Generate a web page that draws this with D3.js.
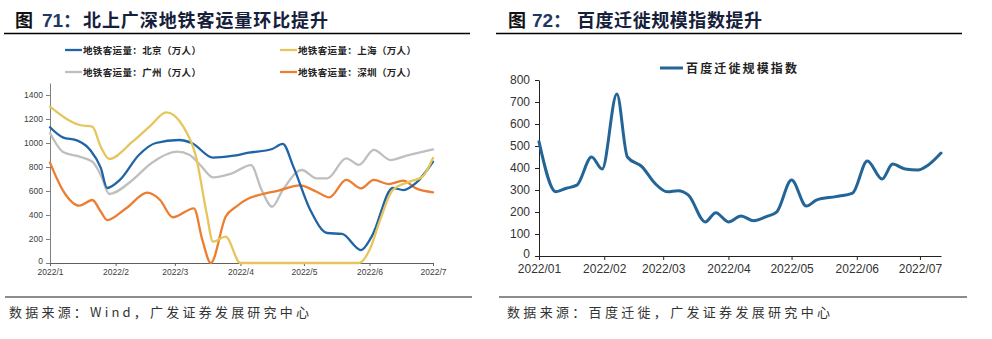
<!DOCTYPE html>
<html><head><meta charset="utf-8">
<script src="https://cdn.jsdelivr.net/npm/d3@7"></script>
<style>
html,body{margin:0;padding:0;background:#fff;}
svg{display:block;}
</style></head>
<body>
<svg id="c" width="992" height="339"></svg>
<script>
// ---------- Data: left chart (metro ridership, 万人) ----------
const bjDates = ["2022-01-01","2022-01-07","2022-01-14","2022-01-20","2022-01-25","2022-01-28","2022-02-03","2022-02-12","2022-02-20","2022-03-03","2022-03-09","2022-03-19","2022-03-28","2022-04-05","2022-04-16","2022-04-21","2022-04-26","2022-05-04","2022-05-12","2022-05-19","2022-05-28","2022-06-02","2022-06-12","2022-06-17","2022-06-23","2022-07-01"];
const bjValues = [1131,1047,1020,942,792,625,692,900,1000,1025,1000,878,892,919,950,992,803,442,250,242,108,219,625,608,667,844];

const shDates = ["2022-01-01","2022-01-15","2022-01-21","2022-01-25","2022-01-29","2022-02-09","2022-02-17","2022-02-25","2022-03-05","2022-03-11","2022-03-16","2022-03-19","2022-03-25","2022-04-01","2022-04-15","2022-05-01","2022-05-15","2022-05-27","2022-06-01","2022-06-06","2022-06-12","2022-06-20","2022-06-26","2022-07-01"];
const shValues = [1303,1150,1136,969,867,1011,1136,1256,1136,886,417,178,219,0,0,0,0,0,108,358,608,678,719,875];

const gzDates = ["2022-01-01","2022-01-07","2022-01-15","2022-01-21","2022-01-25","2022-01-29","2022-02-09","2022-02-18","2022-03-02","2022-03-08","2022-03-13","2022-03-19","2022-03-28","2022-04-06","2022-04-11","2022-04-16","2022-04-21","2022-04-30","2022-05-07","2022-05-12","2022-05-21","2022-05-27","2022-06-03","2022-06-11","2022-06-18","2022-07-01"];
const gzValues = [1083,928,886,844,733,575,692,833,928,900,817,714,747,815,608,469,608,775,706,706,872,817,942,858,892,947];

const szDates = ["2022-01-01","2022-01-07","2022-01-15","2022-01-21","2022-01-25","2022-01-28","2022-02-06","2022-02-16","2022-02-22","2022-02-28","2022-03-10","2022-03-14","2022-03-18","2022-03-25","2022-03-30","2022-04-05","2022-04-10","2022-04-19","2022-04-29","2022-05-07","2022-05-13","2022-05-21","2022-05-28","2022-06-03","2022-06-10","2022-06-17","2022-06-23","2022-07-01"];
const szValues = [836,608,478,525,428,358,456,586,525,381,456,192,0,386,469,539,567,603,647,594,547,692,622,692,658,686,622,589];

const leftSeriesNames = ["地铁客运量：北京（万人）","地铁客运量：上海（万人）","地铁客运量：广州（万人）","地铁客运量：深圳（万人）"];
const leftYTicks = [0,200,400,600,800,1000,1200,1400];
const leftXTicks = ["2022-01-01","2022-02-01","2022-03-01","2022-04-01","2022-05-01","2022-06-01","2022-07-01"];

// ---------- Data: right chart (Baidu migration scale index) ----------
const bdDates = ["2022-01-01","2022-01-09","2022-01-14","2022-01-19","2022-01-26","2022-01-31","2022-02-07","2022-02-12","2022-02-19","2022-02-25","2022-03-03","2022-03-08","2022-03-13","2022-03-21","2022-03-26","2022-04-01","2022-04-07","2022-04-13","2022-04-19","2022-04-24","2022-05-01","2022-05-08","2022-05-13","2022-05-22","2022-05-30","2022-06-06","2022-06-13","2022-06-18","2022-06-24","2022-06-30","2022-07-05","2022-07-11"];
const bdValues = [520,292,308,322,450,395,736,450,405,331,292,297,277,155,197,155,182,160,179,201,345,227,255,270,286,432,350,418,395,391,414,468];
const rightSeriesName = "百度迁徙规模指数";
const rightYTicks = [0,100,200,300,400,500,600,700,800];
const rightXTicks = ["2022-01-01","2022-02-01","2022-03-01","2022-04-01","2022-05-01","2022-06-01","2022-07-01"];

const titles = [
  {fig:"图", num:"71：", text:"北上广深地铁客运量环比提升"},
  {fig:"图", num:"72：", text:"百度迁徙规模指数提升"}
];
const sources = ["数据来源：Wind，广发证券发展研究中心","数据来源：百度迁徙，广发证券发展研究中心"];

// ---------- Drawing ----------
const parse = d3.timeParse("%Y-%m-%d");
const svg = d3.select("#c");
svg.append("rect").attr("width",992).attr("height",339).attr("fill","#fff");
const CJK = "'Noto Sans CJK SC','Noto Sans',sans-serif";
const LAT = "'Liberation Sans',Arial,sans-serif";

// Titles
[{x0:15, xn:42, xt:83, tl:245, lx1:4, lx2:470}, {x0:508, xn:532, xt:577, tl:185, lx1:496, lx2:962}].forEach((p,i)=>{
  const t = titles[i];
  svg.append("text").attr("x",p.x0).attr("y",27).attr("font-family",CJK).attr("font-weight",700)
     .attr("font-size",18).attr("fill","#111").text(t.fig);
  svg.append("text").attr("x",p.xn).attr("y",27).attr("font-family",LAT).attr("font-weight",700)
     .attr("font-size",19).attr("fill","#1f3864").text(t.num.slice(0,2));
  svg.append("text").attr("x",p.xn+21).attr("y",27).attr("font-family",CJK).attr("font-weight",700)
     .attr("font-size",18).attr("fill","#1f3864").text(t.num.slice(2));
  svg.append("text").attr("x",p.xt).attr("y",27).attr("font-family",CJK).attr("font-weight",700)
     .attr("font-size",18).attr("fill","#15203a").attr("textLength",p.tl).attr("lengthAdjust","spacing").text(t.text);
  svg.append("line").attr("x1",p.lx1).attr("x2",p.lx2).attr("y1",33.5).attr("y2",33.5)
     .attr("stroke","#000").attr("stroke-width",1.3);
});

// Footer lines and sources
[{x1:5,x2:472,tx:9,tl:300},{x1:499,x2:967,tx:507,tl:323}].forEach((p,i)=>{
  svg.append("line").attr("x1",p.x1).attr("x2",p.x2).attr("y1",297).attr("y2",297)
     .attr("stroke","#8c8c8c").attr("stroke-width",2);
  svg.append("text").attr("x",p.tx).attr("y",317).attr("font-family",CJK).attr("font-size",13)
     .attr("fill","#333").attr("textLength",p.tl).attr("lengthAdjust","spacing").text(sources[i]);
});

// ---------- Left chart ----------
const xL = d3.scaleTime().domain([parse("2022-01-01"), parse("2022-07-01")]).range([50,433]);
const yL = d3.scaleLinear().domain([0,1500]).range([263,83]);

const gyL = svg.append("g").attr("transform","translate(50,0)")
  .call(d3.axisLeft(yL).tickValues(leftYTicks).tickFormat(d3.format("d")).tickSize(4).tickSizeOuter(0).tickPadding(3));
gyL.selectAll("text").attr("font-family",LAT).attr("font-size",8.5).attr("fill","#404040");
gyL.selectAll(".tick").filter(d=>d===0).select("text").attr("dy","0.1em");
gyL.selectAll("line,path").attr("stroke","#808080");

const gxL = svg.append("g").attr("transform","translate(0,263)")
  .call(d3.axisBottom(xL).tickValues(leftXTicks.map(parse)).tickSize(3).tickSizeOuter(0).tickPadding(3)
        .tickFormat(d=>d3.timeFormat("%Y/")(d)+(d.getMonth()+1)));
gxL.selectAll("text").attr("font-family",LAT).attr("font-size",8.5).attr("fill","#404040");
gxL.selectAll("line,path").attr("stroke","#606060");

const leftSeries = [
  {dates:bjDates, vals:bjValues, color:"#1f64a6"},
  {dates:shDates, vals:shValues, color:"#e6c65c"},
  {dates:gzDates, vals:gzValues, color:"#bfbfbf"},
  {dates:szDates, vals:szValues, color:"#ed7d31"}
];
const lineL = d3.line().x(d=>xL(d[0])).y(d=>yL(d[1])).curve(d3.curveMonotoneX);
const drawOrder = [2,3,0,1];
drawOrder.forEach(i=>{
  const s = leftSeries[i];
  const pts = s.dates.map((d,j)=>[parse(d), s.vals[j]]);
  svg.append("path").attr("d",lineL(pts)).attr("fill","none")
     .attr("stroke",s.color).attr("stroke-width",2.3).attr("stroke-linejoin","round").attr("stroke-linecap","round");
});

// Left legend
const legPos = [{x:65,y:50},{x:280,y:50},{x:65,y:72},{x:280,y:72}];
leftSeries.forEach((s,i)=>{
  const p = legPos[i];
  svg.append("line").attr("x1",p.x).attr("x2",p.x+17).attr("y1",p.y).attr("y2",p.y)
     .attr("stroke",s.color).attr("stroke-width",2.3);
  svg.append("text").attr("x",p.x+18).attr("y",p.y+3.5).attr("font-family",CJK).attr("font-weight",700)
     .attr("font-size",9.5).attr("fill","#222").attr("textLength",118).attr("lengthAdjust","spacing")
     .text(leftSeriesNames[i]);
});

// ---------- Right chart ----------
const xR = d3.scaleTime().domain([parse("2022-01-01"), parse("2022-07-11")]).range([539,941]);
const yR = d3.scaleLinear().domain([0,800]).range([256,80]);

const gyR = svg.append("g").attr("transform","translate(539,0)")
  .call(d3.axisLeft(yR).tickValues(rightYTicks).tickSize(4).tickSizeOuter(0).tickPadding(5));
gyR.selectAll("text").attr("font-family",LAT).attr("font-size",12).attr("fill","#333");
gyR.selectAll(".tick").filter(d=>d===0).select("text").attr("dy","0.1em");
gyR.selectAll("line,path").attr("stroke","#222");

const gxR = svg.append("g").attr("transform","translate(0,256)")
  .call(d3.axisBottom(xR).tickValues(rightXTicks.map(parse)).tickSize(4).tickSizeOuter(0).tickPadding(4)
        .tickFormat(d3.timeFormat("%Y/%m")));
gxR.selectAll("text").attr("font-family",LAT).attr("font-size",12).attr("fill","#333");
gxR.selectAll("line,path").attr("stroke","#222");

const lineR = d3.line().x(d=>xR(d[0])).y(d=>yR(d[1])).curve(d3.curveMonotoneX);
svg.append("path").attr("d",lineR(bdDates.map((d,j)=>[parse(d), bdValues[j]])))
   .attr("fill","none").attr("stroke","#236597").attr("stroke-width",3)
   .attr("stroke-linejoin","round").attr("stroke-linecap","round");

// Right legend
svg.append("line").attr("x1",660).attr("x2",683).attr("y1",68).attr("y2",68)
   .attr("stroke","#236597").attr("stroke-width",3);
svg.append("text").attr("x",686).attr("y",72.5).attr("font-family",CJK).attr("font-weight",700)
   .attr("font-size",12).attr("fill","#222").attr("textLength",111).attr("lengthAdjust","spacing")
   .text(rightSeriesName);
</script>
</body></html>
